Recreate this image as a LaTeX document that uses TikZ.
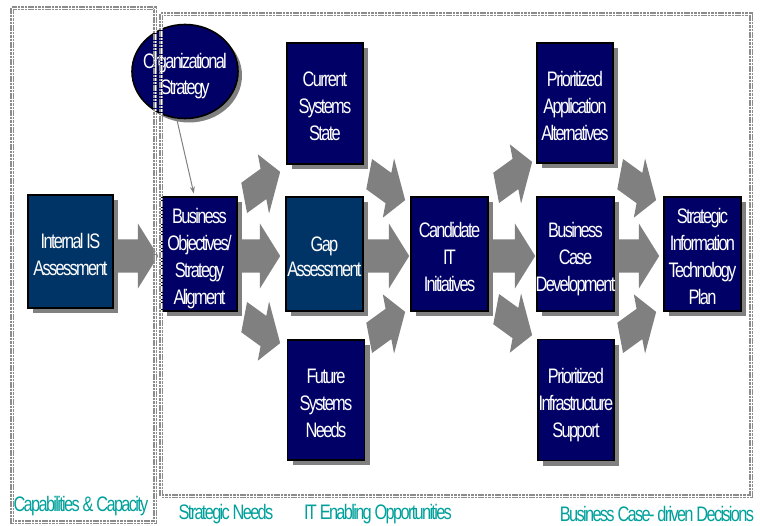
\documentclass[tikz,border=0pt]{standalone}
\usepackage{fontspec}
\setmainfont{Liberation Sans}
\newfontfamily\narrowsans[FakeStretch=0.78,LetterSpace=-8]{Liberation Sans}
\usetikzlibrary{shapes.arrows,shapes.geometric,shadows,arrows.meta}
\definecolor{navy}{RGB}{0,0,102}
\definecolor{deepteal}{RGB}{0,51,102}
\definecolor{shadowgray}{RGB}{128,128,128}
\definecolor{arrowgray}{RGB}{128,128,128}
\definecolor{labelteal}{RGB}{0,160,155}
\definecolor{framegray}{RGB}{140,140,140}
\newcommand\boxfont{\narrowsans\fontsize{21}{27}\selectfont}
\newcommand\labelfont{\narrowsans\fontsize{21}{25}\selectfont}
\newcommand\boxtext[1]{\raisebox{-10pt}[0pt][0pt]{\makebox[0pt]{\begin{tabular}{@{}c@{}}#1\end{tabular}}}}
\begin{document}
\begin{tikzpicture}[x=1pt,y=-1pt,
  box/.style={draw=black, line width=1.2pt, fill=navy, text=white, font=\boxfont,
    inner sep=0pt,
    drop shadow={shadow xshift=5pt, shadow yshift=-5pt, fill=shadowgray, opacity=1}},
  tealbox/.style={box, fill=deepteal},
  harrow/.style={single arrow, fill=arrowgray, draw=none, minimum height=42pt,
    minimum width=0pt, single arrow head extend=16pt, single arrow tip angle=116,
    inner xsep=0pt, inner ysep=16.5pt, anchor=tail},
  uparrow/.style={harrow, minimum height=44pt, cm={0.818,0.591,-0.172,0.906,(0,0)}},
  downarrow/.style={harrow, minimum height=44pt, cm={0.818,-0.591,0.172,0.906,(0,0)}},
  frame/.style={draw=framegray, line width=3.2pt, dash pattern=on 2.6pt off 0.8pt},
  framein/.style={draw=white, line width=1pt, dash pattern=on 2.6pt off 0.8pt},
  steplabel/.style={text=labelteal, font=\labelfont, inner sep=0pt}]
\useasboundingbox (0,0) rectangle (760,525);

% horizontal block arrows
\node[harrow, minimum height=40pt] (a1) at (118,256) {};
\node[harrow] (a2) at (238,256) {};
\node[harrow] (a3) at (367,256) {};
\node[harrow] (a4) at (493,256) {};
\node[harrow] (a5) at (617,256) {};
% diagonal block arrows
\node[uparrow]   (d1) at (244,198) {};
\node[downarrow] (d2) at (244,317) {};
\node[downarrow] (d3) at (369,174) {};
\node[uparrow]   (d4) at (369,338) {};
\node[uparrow]   (d5) at (496,188) {};
\node[downarrow] (d6) at (496,309) {};
\node[downarrow] (d7) at (620,174) {};
\node[uparrow]   (d8) at (620,338) {};

% boxes
\node[tealbox, minimum width=85pt, minimum height=113pt] (internal) at (70.5,251.5) {\boxtext{Internal IS\\Assessment}};
\node[box, minimum width=75pt, minimum height=114pt] (busobj) at (199.5,254) {\boxtext{Business\\Objectives/\\Strategy\\Aligment}};
\node[box, minimum width=76pt, minimum height=121pt] (current) at (325,103.5) {\boxtext{Current\\Systems\\State}};
\node[tealbox, minimum width=77pt, minimum height=114pt] (gap) at (324.5,254) {\boxtext{Gap\\[-2pt]Assessment}};
\node[box, minimum width=77pt, minimum height=120pt] (future) at (326,400) {\boxtext{Future\\Systems\\Needs}};
\node[box, minimum width=77pt, minimum height=114pt] (cand) at (449.5,254) {\boxtext{Candidate\\IT\\Initiatives}};
\node[box, minimum width=76pt, minimum height=120pt] (prioapp) at (575,103) {\boxtext{Prioritized\\Application\\Alternatives}};
\node[box, minimum width=77pt, minimum height=114pt] (buscase) at (575.5,254) {\boxtext{Business\\Case\\Development}};
\node[box, minimum width=76pt, minimum height=121pt] (infra) at (576,400) {\boxtext{Prioritized\\Infrastructure\\Support}};
\node[box, minimum width=77pt, minimum height=114pt] (plan) at (702.5,254) {\boxtext{Strategic\\Information\\Technology\\Plan}};

% ellipse
\node[ellipse, draw=black, line width=1.6pt, fill=navy, text=white, font=\boxfont,
  inner sep=0pt, minimum width=106pt, minimum height=94pt,
  drop shadow={shadow xshift=4pt, shadow yshift=-4pt, fill=shadowgray, opacity=1}]
  (org) at (185,71.5) {\boxtext{Organizational\\[-1pt]Strategy}};
\draw[draw=shadowgray, line width=1pt, -{Stealth[length=7pt,width=5pt]}, shorten >=3pt]
  (org.260) -- ([xshift=-5pt]busobj.north);

% dashed frames
\draw[frame] (12,8) rectangle (155,522);
\draw[frame] (161,14) rectangle (751,496);
\draw[framein] (12,8) rectangle (155,522);
\draw[framein] (161,14) rectangle (751,496);

% labels
\node[steplabel] (l1) at (81,506) {Capabilities \& Capacity};
\node[steplabel] (l2) at (226,514) {Strategic Needs};
\node[steplabel] (l3) at (378,514) {IT Enabling Opportunities};
\node[steplabel] (l4) at (657,514) {Business Case- driven Decisions};
\end{tikzpicture}
\end{document}
